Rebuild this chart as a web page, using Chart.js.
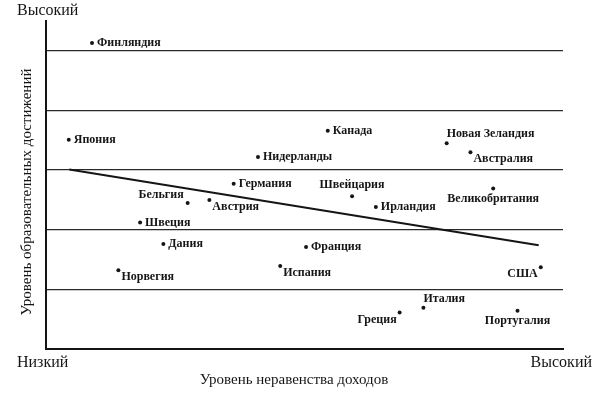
<!DOCTYPE html>
<html>
<head>
<meta charset="utf-8">
<script src="https://cdn.jsdelivr.net/npm/chart.js@4.4.1/dist/chart.umd.min.js"></script>
<style>
  html, body { margin: 0; padding: 0; background: #fff; }
  #wrap { width: 600px; height: 393px; }
</style>
</head>
<body>
<div id="wrap"><canvas id="myChart"></canvas></div>
<script>
// countries and their position (income inequality, education level)
const countries = ['Финляндия','Япония','Нидерланды','Германия','Канада','Новая Зеландия','Австралия',
  'Швейцария','Великобритания','Ирландия','Бельгия','Австрия','Швеция','Дания','Норвегия',
  'Испания','Франция','США','Италия','Греция','Португалия'];
const inequality = [8.9, 4.4, 41.0, 36.3, 54.5, 77.5, 82.1, 59.2, 86.5, 63.8, 27.4, 31.6, 18.2, 22.7, 14.0, 45.3, 50.3, 95.7, 73.0, 68.4, 91.2];
const education  = [5.13, 3.51, 3.22, 2.77, 3.66, 3.45, 3.30, 2.56, 2.69, 2.38, 2.45, 2.50, 2.12, 1.76, 1.32, 1.39, 1.71, 1.37, 0.69, 0.61, 0.64];
// trend line end points
const trendX = [4.5, 95.3];
const trendY = [3.01, 1.74];

// where each label sits relative to its dot
const labelSide = ['r','r','r','r','r','ar','br','a','b','r','al','br','r','r','br','br','r','bl','ar','bl','b'];

const ink = '#151515';
const serif = '"Liberation Serif", "DejaVu Serif", serif';

const labelsPlugin = {
  id: 'labelsPlugin',
  afterDatasetsDraw(chart) {
    const ctx = chart.ctx;
    const xs = chart.scales.x, ys = chart.scales.y;
    ctx.save();
    ctx.fillStyle = ink;
    ctx.textBaseline = 'middle';
    ctx.font = 'bold 12px ' + serif;
    countries.forEach((name, i) => {
      const px = xs.getPixelForValue(inequality[i]);
      const py = ys.getPixelForValue(education[i]);
      let dx = 5, dy = 0, align = 'left';
      switch (labelSide[i]) {
        case 'ar': dx = 0; dy = -9; break;
        case 'br': dx = 3; dy = 7; break;
        case 'a': dx = 0; dy = -11; align = 'center'; break;
        case 'b': dx = 0; dy = 10; align = 'center'; break;
        case 'al': dx = -4; dy = -8; align = 'right'; break;
        case 'bl': dx = -3; dy = 7; align = 'right'; break;
      }
      ctx.textAlign = align;
      ctx.fillText(name, px + dx, py + dy);
    });

    // axis end labels and titles
    ctx.font = '16px ' + serif;
    ctx.textAlign = 'left';
    ctx.fillText('Высокий', 17, 11);
    ctx.fillText('Низкий', 17, 363);
    ctx.textAlign = 'right';
    ctx.fillText('Высокий', 592, 363);
    ctx.font = '15px ' + serif;
    ctx.textAlign = 'center';
    ctx.fillText('Уровень неравенства доходов', 294, 380);
    ctx.translate(27, 192);
    ctx.rotate(-Math.PI / 2);
    ctx.fillText('Уровень образовательных достижений', 0, 0);
    ctx.restore();
  }
};

let myChart = document.getElementById('myChart').getContext('2d');
let eduChart = new Chart(myChart, {
  type: 'scatter',
  data: {
    datasets: [{
      label: 'Страны',
      data: inequality.map((x, i) => ({ x: x, y: education[i] })),
      pointRadius: 2,
      pointBackgroundColor: ink,
      pointBorderWidth: 0
    }, {
      label: 'Тренд',
      type: 'line',
      data: trendX.map((x, i) => ({ x: x, y: trendY[i] })),
      borderColor: ink,
      borderWidth: 2,
      pointRadius: 0
    }]
  },
  options: {
    responsive: true,
    maintainAspectRatio: false,
    animation: false,
    events: [],
    layout: {
      padding: { left: 46, top: 21, right: 37, bottom: 36 }
    },
    plugins: {
      legend: { display: false },
      tooltip: { enabled: false }
    },
    scales: {
      x: {
        min: 0,
        max: 100,
        ticks: { display: false },
        grid: { display: false },
        border: { display: true, color: ink, width: 2 }
      },
      y: {
        min: 0,
        max: 5.5,
        afterBuildTicks: axis => {
          axis.ticks = axis.ticks.filter(t => Number.isInteger(t.value));
        },
        ticks: { display: false, stepSize: 1 },
        grid: { color: '#2a2a2a', lineWidth: 1.3, drawTicks: false },
        border: { display: true, color: ink, width: 2 }
      }
    }
  },
  plugins: [labelsPlugin]
});
</script>
</body>
</html>
